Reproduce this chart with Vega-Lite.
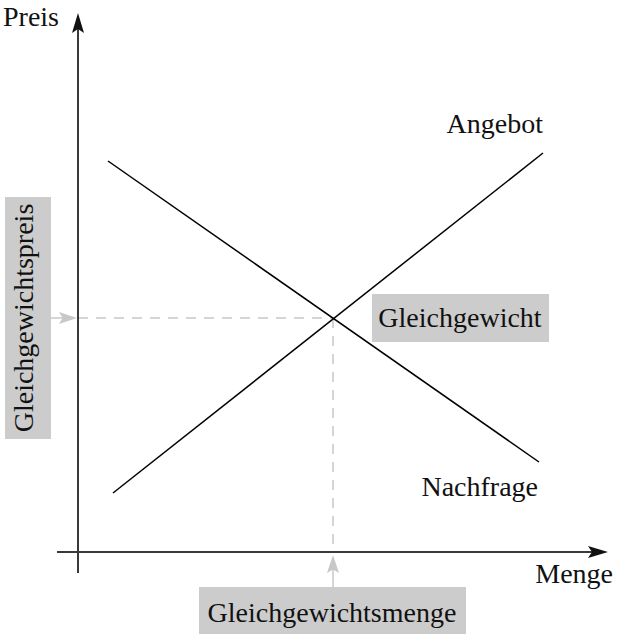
{
  "$schema": "https://vega.github.io/schema/vega-lite/v6.json",
  "width": 620,
  "height": 638,
  "autosize": {"type": "fit", "contains": "padding"},
  "padding": 0,
  "background": "white",
  "config": {"view": {"stroke": null}, "text": {"font": "Liberation Serif", "fontSize": 28, "color": "#111111"}},
  "encoding": {
    "x": {"field": "x", "type": "quantitative", "scale": {"domain": [-78, 542], "nice": false, "zero": false}, "axis": null},
    "y": {"field": "y", "type": "quantitative", "scale": {"domain": [-86, 552], "nice": false, "zero": false}, "axis": null}
  },
  "layer": [
    {
      "data": {"values": [
        {"box": "Gleichgewichtspreis", "x": -73, "x2": -27, "y": 355, "y2": 113},
        {"box": "Gleichgewicht", "x": 294, "x2": 471, "y": 258, "y2": 210},
        {"box": "Gleichgewichtsmenge", "x": 121, "x2": 388, "y": -35, "y2": -82}
      ]},
      "mark": {"type": "rect", "color": "#cccccc"},
      "encoding": {"x2": {"field": "x2"}, "y2": {"field": "y2"}}
    },
    {
      "data": {"values": [
        {"seg": "Preis-Hilfslinie", "x": 0, "y": 234, "x2": 255, "y2": 234},
        {"seg": "Menge-Hilfslinie", "x": 255, "y": 234, "x2": 255, "y2": 0}
      ]},
      "mark": {"type": "rule", "color": "#c8c8c8", "strokeWidth": 1.5, "strokeDash": [10, 8]},
      "encoding": {"x2": {"field": "x2"}, "y2": {"field": "y2"}}
    },
    {
      "data": {"values": [
        {"seg": "Pfeil Preis", "x": -28, "y": 234, "x2": -12, "y2": 234},
        {"seg": "Pfeil Menge", "x": 255, "y": -35, "x2": 255, "y2": -14}
      ]},
      "mark": {"type": "rule", "color": "#c8c8c8", "strokeWidth": 1.5},
      "encoding": {"x2": {"field": "x2"}, "y2": {"field": "y2"}}
    },
    {
      "data": {"values": [{"x": -10, "y": 234}]},
      "mark": {"type": "point", "filled": true, "opacity": 1, "color": "#c8c8c8", "size": 324, "shape": "M1,0 L-1,-0.67 L-0.6,0 L-1,0.67 Z"}
    },
    {
      "data": {"values": [{"x": 255, "y": -12}]},
      "mark": {"type": "point", "filled": true, "opacity": 1, "color": "#c8c8c8", "size": 324, "shape": "M0,-1 L-0.67,1 L0,0.6 L0.67,1 Z"}
    },
    {
      "data": {"values": [
        {"seg": "Preisachse", "x": 0, "y": -21, "x2": 0, "y2": 528},
        {"seg": "Mengenachse", "x": -21, "y": 0, "x2": 518, "y2": 0}
      ]},
      "mark": {"type": "rule", "color": "#3a3a3a", "strokeWidth": 2},
      "encoding": {"x2": {"field": "x2"}, "y2": {"field": "y2"}}
    },
    {
      "data": {"values": [{"x": 0, "y": 529}]},
      "mark": {"type": "point", "filled": true, "opacity": 1, "color": "#111111", "size": 400, "shape": "M0,-1 L-0.6,1 L0,0.6 L0.6,1 Z"}
    },
    {
      "data": {"values": [{"x": 520, "y": 0}]},
      "mark": {"type": "point", "filled": true, "opacity": 1, "color": "#111111", "size": 400, "shape": "M1,0 L-1,-0.6 L-0.6,0 L-1,0.6 Z"}
    },
    {
      "data": {"values": [
        {"kurve": "Angebot", "x": 35, "y": 59, "x2": 465, "y2": 399},
        {"kurve": "Nachfrage", "x": 30, "y": 391, "x2": 461, "y2": 90}
      ]},
      "mark": {"type": "rule", "color": "#000000", "strokeWidth": 1.5},
      "encoding": {"x2": {"field": "x2"}, "y2": {"field": "y2"}}
    },
    {
      "data": {"values": [{"label": "Preis", "x": -75, "y": 526}]},
      "mark": {"type": "text", "align": "left", "baseline": "alphabetic"},
      "encoding": {"text": {"field": "label"}}
    },
    {
      "data": {"values": [
        {"label": "Menge", "x": 535, "y": -31},
        {"label": "Angebot", "x": 465, "y": 419},
        {"label": "Nachfrage", "x": 460, "y": 56}
      ]},
      "mark": {"type": "text", "align": "right", "baseline": "alphabetic"},
      "encoding": {"text": {"field": "label"}}
    },
    {
      "data": {"values": [
        {"label": "Gleichgewicht", "x": 382, "y": 225},
        {"label": "Gleichgewichtsmenge", "x": 254, "y": -70}
      ]},
      "mark": {"type": "text", "align": "center", "baseline": "alphabetic"},
      "encoding": {"text": {"field": "label"}}
    },
    {
      "data": {"values": [{"label": "Gleichgewichtspreis", "x": -45, "y": 234}]},
      "mark": {"type": "text", "align": "center", "baseline": "alphabetic", "angle": 270},
      "encoding": {"text": {"field": "label"}}
    }
  ]
}
